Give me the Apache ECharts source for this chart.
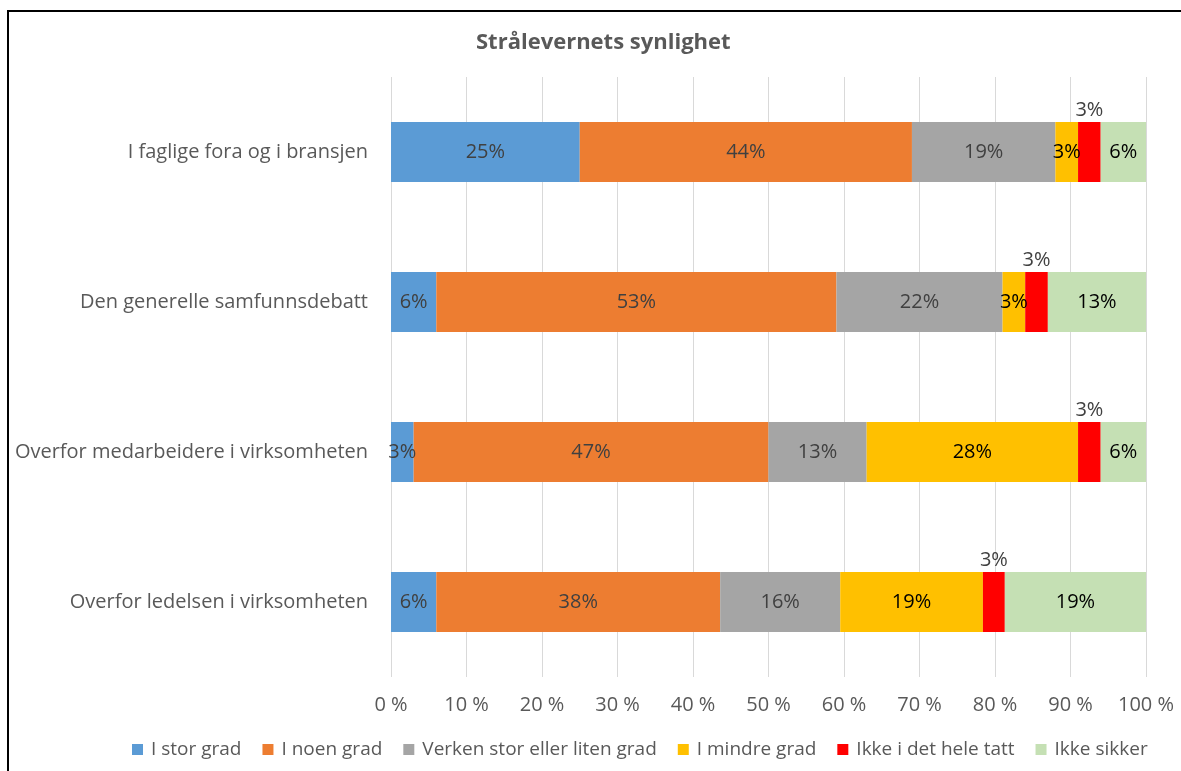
<!DOCTYPE html>
<html>
<head>
<meta charset="utf-8">
<script src="https://cdn.jsdelivr.net/npm/echarts@6/dist/echarts.min.js"></script>
<style>
  html, body { margin: 0; padding: 0; background: #fff; overflow: hidden; }
  #frame { position: absolute; left: 7px; top: 10px; width: 1400px; height: 1000px;
           border-left: 2px solid #000; border-top: 2px solid #000; }
  #chart { position: absolute; left: 0; top: 0; width: 1181px; height: 771px; }
</style>
</head>
<body>
<div id="frame"></div>
<div id="chart"></div>
<script>
// categories, top to bottom
var categories = ['I faglige fora og i bransjen', 'Den generelle samfunnsdebatt',
	'Overfor medarbeidere i virksomheten', 'Overfor ledelsen i virksomheten'];

// share per answer (percent)
var storGrad = [25, 6, 3, 6];
var noenGrad = [44, 53, 47, 37.6];
var verken = [19, 22, 13, 15.9];
var mindreGrad = [3, 3, 28, 18.9];
var ikkeHele = [3, 3, 3, 2.9];
var ikkeSikker = [6, 13, 6, 18.7];

var seriesNames = ['I stor grad', 'I noen grad', 'Verken stor eller liten grad',
	'I mindre grad', 'Ikke i det hele tatt', 'Ikke sikker'];
var seriesData = [storGrad, noenGrad, verken, mindreGrad, ikkeHele, ikkeSikker];
var colors = ['#5b9bd5', '#ed7d31', '#a5a5a5', '#ffc000', '#ff0000', '#c5e0b4'];
var labelColors = ['#404040', '#404040', '#404040', '#000000', '#404040', '#000000'];

var font = '"Open Sans", sans-serif';

var series = seriesData.map(function (d, i) {
	return {
		name: seriesNames[i],
		type: 'bar',
		stack: 'total',
		barWidth: 60,
		data: d,
		itemStyle: { color: colors[i] },
		label: {
			show: true,
			position: i === 4 ? 'top' : 'inside',
			distance: 2,
			color: labelColors[i],
			fontFamily: font,
			fontSize: 20,
			formatter: function (p) { return Math.round(p.value) + '%'; }
		}
	};
});

var chart = echarts.init(document.getElementById('chart'));
chart.setOption({
	animation: false,
	color: colors,
	title: {
		text: 'Strålevernets synlighet',
		left: 471,
		top: 27,
		textStyle: { fontFamily: font, fontSize: 22, fontWeight: 'bold', color: '#595959' }
	},
	legend: {
		bottom: 7,
		left: 127,
		itemWidth: 11,
		itemHeight: 11,
		itemGap: 21,
		icon: 'rect',
		textStyle: { fontFamily: font, fontSize: 19, color: '#595959', padding: [0, 0, 0, 3] },
		data: seriesNames
	},
	grid: { left: 391, right: 35, top: 77, height: 600 },
	xAxis: {
		type: 'value',
		min: 0,
		max: 100,
		interval: 10,
		axisLine: { show: false },
		axisTick: { show: false },
		splitLine: { lineStyle: { color: '#d9d9d9', width: 1 } },
		axisLabel: {
			margin: 18,
			fontFamily: font,
			fontSize: 20,
			color: '#595959',
			formatter: '{value} %'
		}
	},
	yAxis: {
		type: 'category',
		inverse: true,
		data: categories,
		axisLine: { show: false },
		axisTick: { show: false },
		axisLabel: { margin: 23, fontFamily: font, fontSize: 20, color: '#595959' }
	},
	series: series
});
</script>
</body>
</html>
